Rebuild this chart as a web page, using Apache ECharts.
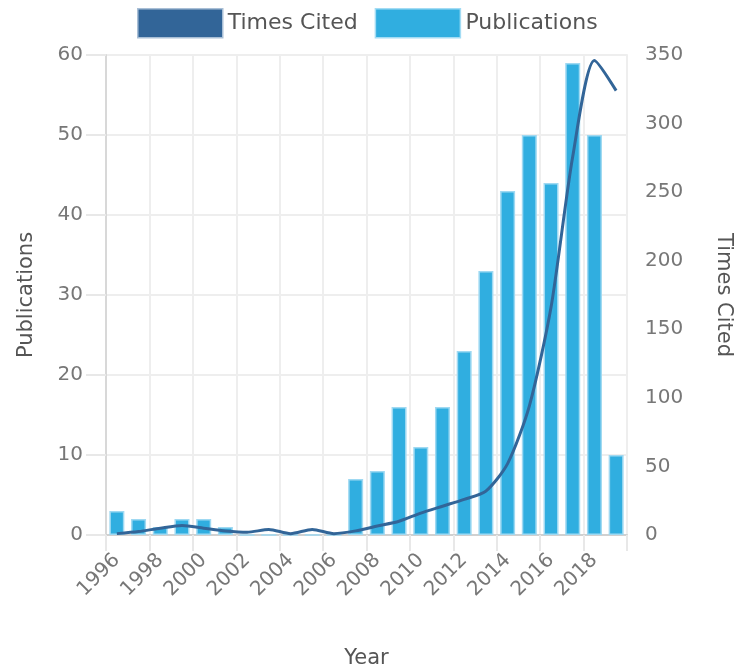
<!DOCTYPE html>
<html>
<head>
<meta charset="utf-8">
<script src="https://cdn.jsdelivr.net/npm/echarts@6/dist/echarts.min.js"></script>
<style>
html,body{margin:0;padding:0;background:#fff;}
#chart{width:734px;height:667px;}
</style>
</head>
<body>
<div id="chart"></div>
<script>
const years = ['1996','1997','1998','1999','2000','2001','2002','2003','2004','2005','2006','2007','2008','2009','2010','2011','2012','2013','2014','2015','2016','2017','2018','2019'];
const publications = [3,2,1,2,2,1,0,0,0,0,0,7,8,16,11,16,23,33,43,50,44,59,50,10];
const timesCited = [1,2.5,5,7,5,3,2,4,1,4,1,3,6.5,10,16,21,26,32,52,94,166,276,346,324];
const leftTicks = {min:0, max:60, interval:10};
const rightTicks = {min:0, max:350, interval:50};

const FONT = 'DejaVu Sans';
const chart = echarts.init(document.getElementById('chart'), null, {renderer:'canvas'});
chart.setOption({
  animation:false,
  textStyle:{fontFamily:FONT},
  legend:{
    top:8, left:137, padding:0, itemGap:17,
    itemWidth:85, itemHeight:29,
    textStyle:{fontFamily:FONT, fontSize:22, color:'#555'},
    data:[
      {name:'Times Cited', icon:'rect', itemStyle:{color:'#326598', borderColor:'#a9bfd6', borderWidth:1.5}},
      {name:'Publications', icon:'rect', itemStyle:{color:'#30aee0', borderColor:'#a3dcf4', borderWidth:1.5}}
    ]
  },
  grid:{left:106, right:107, top:55, bottom:132, containLabel:false, outerBoundsMode:'none'},
  xAxis:{
    type:'category', data:years, boundaryGap:true,
    name:'Year', nameLocation:'middle', nameGap:113,
    nameTextStyle:{fontFamily:FONT, fontSize:21, color:'#555'},
    axisLine:{lineStyle:{color:'#d0d0d0', width:2}},
    axisTick:{show:true, interval:1, length:16, lineStyle:{color:'#e8e8e8', width:2}},
    axisLabel:{interval:1, rotate:45, margin:22, fontFamily:FONT, fontSize:20, color:'#777'},
    splitLine:{show:true, interval:1, lineStyle:{color:'#eeeeee', width:2}}
  },
  yAxis:[
    {
      type:'value', position:'left', min:leftTicks.min, max:leftTicks.max, interval:leftTicks.interval,
      name:'Publications', nameLocation:'middle', nameGap:69,
      nameTextStyle:{fontFamily:FONT, fontSize:21, color:'#555'},
      axisLine:{show:true, lineStyle:{color:'#d8d8d8', width:2}},
      axisTick:{show:true, length:20, lineStyle:{color:'#e8e8e8', width:2}},
      axisLabel:{margin:23, fontFamily:FONT, fontSize:20, color:'#777'},
      splitLine:{show:true, lineStyle:{color:'#eeeeee', width:2}}
    },
    {
      type:'value', position:'right', min:rightTicks.min, max:rightTicks.max, interval:rightTicks.interval,
      name:'Times Cited', nameLocation:'middle', nameGap:86, nameRotate:-90,
      nameTextStyle:{fontFamily:FONT, fontSize:21, color:'#555'},
      axisLine:{show:true, lineStyle:{color:'#eeeeee', width:2}},
      axisTick:{show:false},
      axisLabel:{margin:18, fontFamily:FONT, fontSize:20, color:'#777'},
      splitLine:{show:false}
    }
  ],
  series:[
    {
      name:'Publications', type:'bar', yAxisIndex:0, data:publications,
      barWidth:15,
      itemStyle:{color:'#30aee0', borderColor:'#9fd9f2', borderWidth:1.5},
      z:2
    },
    {
      name:'Times Cited', type:'line', yAxisIndex:1, data:timesCited,
      smooth:0.25, showSymbol:false, symbol:'none',
      lineStyle:{color:'#326598', width:3},
      itemStyle:{color:'#326598'},
      z:3
    }
  ]
});
</script>
</body>
</html>
